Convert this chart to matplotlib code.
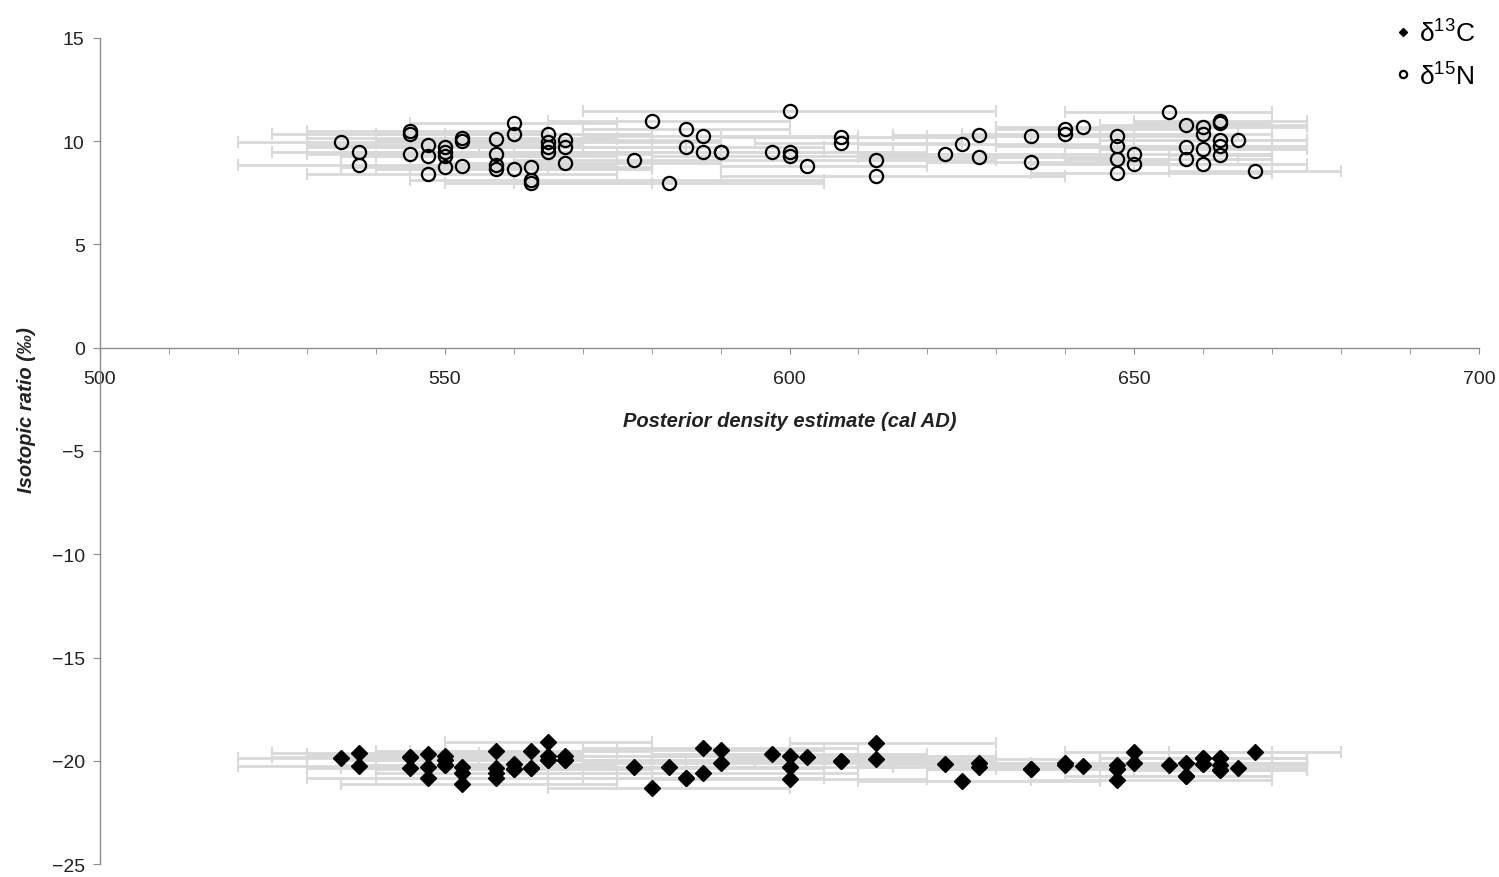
import matplotlib
matplotlib.use('Agg')
import matplotlib.pyplot as plt
from matplotlib.ticker import MultipleLocator

plt.rcParams['font.family'] = ['Liberation Sans', 'DejaVu Sans']
plt.rcParams['mathtext.fontset'] = 'custom'
plt.rcParams['mathtext.rm'] = 'Liberation Sans'

# posterior density estimate (cal AD) with lower / upper bounds, and isotope values
date_mid = [535, 537.5, 537.5, 545, 545, 545, 547.5, 547.5, 547.5,
            550, 550, 550, 550, 552.5, 552.5, 552.5,
            557.5, 557.5, 557.5, 557.5, 560, 560, 560, 562.5, 562.5, 562.5,
            565, 565, 565, 565, 567.5, 567.5, 567.5,
            577.5, 580, 582.5, 585, 585, 587.5, 587.5, 590, 590, 597.5,
            600, 600, 600, 602.5, 607.5, 607.5, 612.5, 612.5,
            622.5, 625, 627.5, 627.5, 635, 635, 640, 640, 642.5,
            647.5, 647.5, 647.5, 647.5, 650, 650, 655, 657.5, 657.5, 657.5,
            660, 660, 660, 660, 662.5, 662.5, 662.5, 662.5, 662.5, 665, 667.5]
date_lo = [520, 525, 520, 530, 525, 530, 530, 535, 530,
           530, 535, 540, 535, 530, 540, 535,
           540, 535, 545, 540, 545, 540, 545, 545, 545, 550,
           550, 545, 550, 550, 550, 555, 550,
           560, 565, 560, 570, 565, 570, 560, 575, 570, 580,
           570, 585, 580, 590, 590, 595, 600, 590,
           610, 610, 615, 610, 620, 620, 630, 625, 630,
           635, 630, 640, 635, 640, 635, 640, 645, 640, 645,
           650, 645, 645, 650, 650, 650, 645, 650, 655, 650, 655]
date_hi = [560, 555, 560, 565, 570, 560, 570, 565, 575,
           570, 570, 575, 565, 575, 570, 575,
           575, 580, 575, 580, 575, 580, 580, 580, 605, 580,
           580, 590, 580, 590, 590, 585, 590,
           600, 600, 605, 600, 605, 610, 610, 605, 610, 620,
           630, 615, 620, 620, 630, 625, 630, 640,
           640, 645, 645, 650, 650, 655, 660, 660, 665,
           665, 670, 665, 670, 670, 675, 670, 675, 670, 670,
           675, 670, 675, 670, 675, 670, 675, 675, 670, 675, 680]
d15N = [9.97, 9.5, 8.85, 10.5, 10.35, 9.4, 9.8, 9.3, 8.4,
        9.7, 9.5, 9.3, 8.75, 10.15, 10.0, 8.8,
        10.1, 9.4, 8.85, 8.65, 10.9, 10.35, 8.65, 8.75, 8.1, 8.0,
        10.35, 9.97, 9.7, 9.5, 10.05, 9.7, 8.95,
        9.1, 11.0, 8.0, 10.6, 9.7, 10.25, 9.5, 9.5, 9.5, 9.5,
        11.47, 9.5, 9.3, 8.8, 10.2, 9.9, 9.1, 8.3,
        9.4, 9.87, 10.3, 9.25, 10.25, 9.0, 10.6, 10.35, 10.7,
        10.25, 9.77, 9.15, 8.47, 9.4, 8.9, 11.4, 10.8, 9.7, 9.15,
        10.7, 10.35, 9.6, 8.9, 11.0, 10.9, 10.05, 9.77, 9.35, 10.05, 8.55]
d13C = [-19.88, -19.64, -20.27, -19.84, -19.84, -20.37, -19.68, -20.32, -20.85,
        -19.75, -19.97, -20.21, -20.21, -20.29, -20.61, -21.14,
        -19.51, -20.37, -20.61, -20.85, -20.16, -20.40, -20.40, -19.51, -20.37, -20.37,
        -19.11, -19.75, -19.97, -19.97, -19.75, -19.97, -19.97,
        -20.32, -21.34, -20.32, -20.85, -20.85, -19.40, -20.61, -19.48, -20.13, -19.68,
        -19.75, -20.32, -20.90, -19.80, -20.00, -20.00, -19.16, -19.92,
        -20.17, -21.00, -20.13, -20.29, -20.40, -20.40, -20.09, -20.21, -20.24,
        -20.21, -20.40, -20.40, -20.93, -19.56, -20.13, -20.21, -20.09, -20.72, -20.72,
        -19.88, -19.88, -20.17, -20.17, -19.88, -19.88, -20.21, -20.45, -20.45, -20.33, -19.59]

xerr = [[m - l for m, l in zip(date_mid, date_lo)],
        [h - m for m, h in zip(date_mid, date_hi)]]

fig = plt.figure(figsize=(14.99, 8.78), dpi=100)
ax = fig.add_axes([0.0667, 0.0148, 0.92, 0.9408])

bar_kw = dict(fmt='none', ecolor='#d9d9d9', elinewidth=2.0, capsize=4, capthick=1.5, zorder=1)
ax.errorbar(date_mid, d15N, xerr=xerr, **bar_kw)
ax.errorbar(date_mid, d13C, xerr=xerr, **bar_kw)

ax.plot(date_mid, d13C, linestyle='none', marker='D', markersize=8, color='black',
        zorder=3, label=r'δ$^{\mathregular{13}}$C')
ax.plot(date_mid, d15N, linestyle='none', marker='o', markersize=9.5, markerfacecolor='none',
        markeredgecolor='black', markeredgewidth=1.6, zorder=3, label=r'δ$^{\mathregular{15}}$N')

ax.set_xlim(500, 700)
ax.set_ylim(-25, 15)
ax.spines['top'].set_visible(False)
ax.spines['right'].set_visible(False)
ax.spines['bottom'].set_position(('data', 0))
for sp in ['left', 'bottom']:
    ax.spines[sp].set_color('#8c8c8c')
    ax.spines[sp].set_linewidth(1.0)

ax.xaxis.set_major_locator(MultipleLocator(50))
ax.xaxis.set_minor_locator(MultipleLocator(10))
ax.yaxis.set_major_locator(MultipleLocator(5))
ax.tick_params(axis='x', which='both', direction='out', length=4, color='#8c8c8c',
               labelsize=14, labelcolor='#222222', pad=12)
ax.tick_params(axis='y', which='major', direction='out', length=5, color='#8c8c8c',
               labelsize=14, labelcolor='#222222', pad=6)

ax.text(600, -3.5, 'Posterior density estimate (cal AD)', ha='center', va='center',
        fontsize=14.5, fontweight='bold', fontstyle='italic', color='#222222')
fig.text(27 / 1499, 1 - 410 / 878, 'Isotopic ratio (‰)', rotation=90, ha='center', va='center',
         fontsize=14.5, fontweight='bold', fontstyle='italic', color='#222222')

leg = ax.legend(loc='upper right', bbox_to_anchor=(1.005, 1.037), frameon=False, fontsize=19,
                markerscale=0.55, handlelength=0.6, handletextpad=0.3, labelspacing=0.55,
                borderaxespad=0.0)

fig.savefig('out.png', dpi=100)
